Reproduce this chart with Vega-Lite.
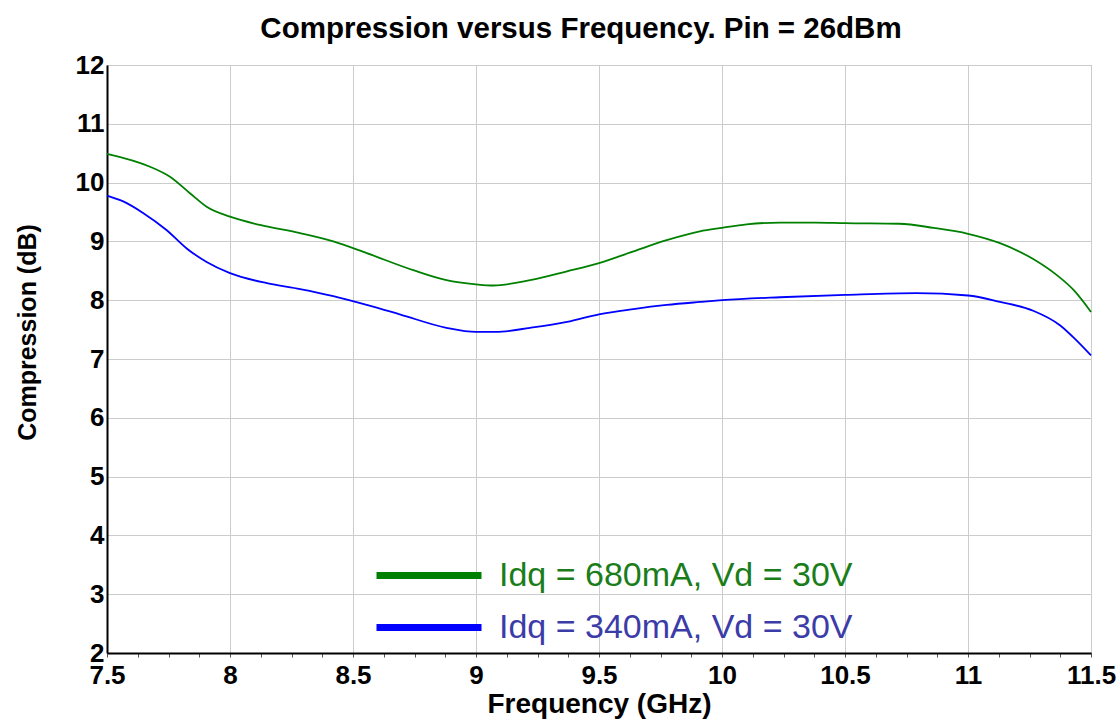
{
  "$schema": "https://vega.github.io/schema/vega-lite/v6.json",
  "width": 984,
  "height": 588,
  "autosize": "none",
  "padding": {"left": 107, "top": 65, "right": 29, "bottom": 69},
  "background": "white",
  "title": {
    "text": "Compression versus Frequency. Pin = 26dBm",
    "font": "Liberation Sans",
    "fontSize": 29.5,
    "fontWeight": "bold",
    "color": "black",
    "anchor": "middle",
    "offset": 8,
    "dx": -18
  },
  "config": {
    "view": {"stroke": "#808080", "strokeWidth": 1},
    "axis": {
      "labelFont": "Liberation Sans",
      "labelFontWeight": "bold",
      "labelFontSize": 26,
      "labelColor": "black",
      "titleFont": "Liberation Sans",
      "titleFontWeight": "bold",
      "titleColor": "black",
      "gridColor": "#cccccc",
      "gridWidth": 1,
      "domainColor": "black",
      "domainWidth": 2,
      "tickColor": "#555555"
    }
  },
  "data": {
    "values": [
      {"f": 7.5, "c": 10.49, "s": "Idq = 680mA, Vd = 30V"},
      {"f": 7.675, "c": 10.27, "s": "Idq = 680mA, Vd = 30V"},
      {"f": 7.756, "c": 10.1, "s": "Idq = 680mA, Vd = 30V"},
      {"f": 7.837, "c": 9.82, "s": "Idq = 680mA, Vd = 30V"},
      {"f": 7.905, "c": 9.59, "s": "Idq = 680mA, Vd = 30V"},
      {"f": 8.0, "c": 9.42, "s": "Idq = 680mA, Vd = 30V"},
      {"f": 8.122, "c": 9.28, "s": "Idq = 680mA, Vd = 30V"},
      {"f": 8.285, "c": 9.14, "s": "Idq = 680mA, Vd = 30V"},
      {"f": 8.42, "c": 9.0, "s": "Idq = 680mA, Vd = 30V"},
      {"f": 8.556, "c": 8.8, "s": "Idq = 680mA, Vd = 30V"},
      {"f": 8.745, "c": 8.51, "s": "Idq = 680mA, Vd = 30V"},
      {"f": 8.88, "c": 8.34, "s": "Idq = 680mA, Vd = 30V"},
      {"f": 9.0, "c": 8.27, "s": "Idq = 680mA, Vd = 30V"},
      {"f": 9.07, "c": 8.25, "s": "Idq = 680mA, Vd = 30V"},
      {"f": 9.22, "c": 8.34, "s": "Idq = 680mA, Vd = 30V"},
      {"f": 9.37, "c": 8.49, "s": "Idq = 680mA, Vd = 30V"},
      {"f": 9.5, "c": 8.63, "s": "Idq = 680mA, Vd = 30V"},
      {"f": 9.64, "c": 8.83, "s": "Idq = 680mA, Vd = 30V"},
      {"f": 9.775, "c": 9.02, "s": "Idq = 680mA, Vd = 30V"},
      {"f": 9.91, "c": 9.17, "s": "Idq = 680mA, Vd = 30V"},
      {"f": 10.0, "c": 9.23, "s": "Idq = 680mA, Vd = 30V"},
      {"f": 10.1, "c": 9.29, "s": "Idq = 680mA, Vd = 30V"},
      {"f": 10.236, "c": 9.32, "s": "Idq = 680mA, Vd = 30V"},
      {"f": 10.38, "c": 9.32, "s": "Idq = 680mA, Vd = 30V"},
      {"f": 10.5, "c": 9.31, "s": "Idq = 680mA, Vd = 30V"},
      {"f": 10.72, "c": 9.3, "s": "Idq = 680mA, Vd = 30V"},
      {"f": 10.86, "c": 9.23, "s": "Idq = 680mA, Vd = 30V"},
      {"f": 11.0, "c": 9.13, "s": "Idq = 680mA, Vd = 30V"},
      {"f": 11.13, "c": 8.97, "s": "Idq = 680mA, Vd = 30V"},
      {"f": 11.265, "c": 8.7, "s": "Idq = 680mA, Vd = 30V"},
      {"f": 11.36, "c": 8.43, "s": "Idq = 680mA, Vd = 30V"},
      {"f": 11.43, "c": 8.17, "s": "Idq = 680mA, Vd = 30V"},
      {"f": 11.5, "c": 7.8, "s": "Idq = 680mA, Vd = 30V"},
      {"f": 7.5, "c": 9.78, "s": "Idq = 340mA, Vd = 30V"},
      {"f": 7.566, "c": 9.68, "s": "Idq = 340mA, Vd = 30V"},
      {"f": 7.648, "c": 9.48, "s": "Idq = 340mA, Vd = 30V"},
      {"f": 7.743, "c": 9.19, "s": "Idq = 340mA, Vd = 30V"},
      {"f": 7.824, "c": 8.88, "s": "Idq = 340mA, Vd = 30V"},
      {"f": 7.905, "c": 8.65, "s": "Idq = 340mA, Vd = 30V"},
      {"f": 8.0, "c": 8.46, "s": "Idq = 340mA, Vd = 30V"},
      {"f": 8.15, "c": 8.29, "s": "Idq = 340mA, Vd = 30V"},
      {"f": 8.285, "c": 8.19, "s": "Idq = 340mA, Vd = 30V"},
      {"f": 8.42, "c": 8.07, "s": "Idq = 340mA, Vd = 30V"},
      {"f": 8.556, "c": 7.92, "s": "Idq = 340mA, Vd = 30V"},
      {"f": 8.69, "c": 7.76, "s": "Idq = 340mA, Vd = 30V"},
      {"f": 8.88, "c": 7.53, "s": "Idq = 340mA, Vd = 30V"},
      {"f": 9.0, "c": 7.46, "s": "Idq = 340mA, Vd = 30V"},
      {"f": 9.08, "c": 7.46, "s": "Idq = 340mA, Vd = 30V"},
      {"f": 9.22, "c": 7.53, "s": "Idq = 340mA, Vd = 30V"},
      {"f": 9.37, "c": 7.63, "s": "Idq = 340mA, Vd = 30V"},
      {"f": 9.5, "c": 7.76, "s": "Idq = 340mA, Vd = 30V"},
      {"f": 9.64, "c": 7.85, "s": "Idq = 340mA, Vd = 30V"},
      {"f": 9.775, "c": 7.92, "s": "Idq = 340mA, Vd = 30V"},
      {"f": 9.91, "c": 7.97, "s": "Idq = 340mA, Vd = 30V"},
      {"f": 10.0, "c": 8.0, "s": "Idq = 340mA, Vd = 30V"},
      {"f": 10.236, "c": 8.05, "s": "Idq = 340mA, Vd = 30V"},
      {"f": 10.5, "c": 8.09, "s": "Idq = 340mA, Vd = 30V"},
      {"f": 10.79, "c": 8.12, "s": "Idq = 340mA, Vd = 30V"},
      {"f": 11.0, "c": 8.08, "s": "Idq = 340mA, Vd = 30V"},
      {"f": 11.13, "c": 7.97, "s": "Idq = 340mA, Vd = 30V"},
      {"f": 11.265, "c": 7.82, "s": "Idq = 340mA, Vd = 30V"},
      {"f": 11.375, "c": 7.57, "s": "Idq = 340mA, Vd = 30V"},
      {"f": 11.44, "c": 7.32, "s": "Idq = 340mA, Vd = 30V"},
      {"f": 11.5, "c": 7.06, "s": "Idq = 340mA, Vd = 30V"}
    ]
  },
  "mark": {"type": "line", "interpolate": "monotone", "strokeWidth": 1.8},
  "encoding": {
    "x": {
      "field": "f",
      "type": "quantitative",
      "scale": {"domain": [7.5, 11.5], "nice": false, "zero": false},
      "axis": {
        "title": "Frequency (GHz)",
        "titleFontSize": 28,
        "values": [7.5, 7.625, 7.75, 7.875, 8, 8.125, 8.25, 8.375, 8.5, 8.625, 8.75, 8.875, 9, 9.125, 9.25, 9.375, 9.5, 9.625, 9.75, 9.875, 10, 10.125, 10.25, 10.375, 10.5, 10.625, 10.75, 10.875, 11, 11.125, 11.25, 11.375, 11.5],
        "labelExpr": "datum.value * 2 == floor(datum.value * 2) ? ('' + datum.value) : ''",
        "labelOverlap": false,
        "labelFlush": false,
        "labelPadding": 5,
        "tickSize": 4,
        "gridOpacity": {"condition": {"test": "datum.value * 2 == floor(datum.value * 2)", "value": 1}, "value": 0},
        "titlePadding": 2
      }
    },
    "y": {
      "field": "c",
      "type": "quantitative",
      "scale": {"domain": [2, 12], "nice": false, "zero": false},
      "axis": {
        "title": "Compression (dB)",
        "titleFontSize": 25,
        "values": [2, 3, 4, 5, 6, 7, 8, 9, 10, 11, 12],
        "labelPadding": 3,
        "ticks": false,
        "labelFlush": false,
        "titleX": -67,
        "titleY": 267
      }
    },
    "color": {
      "field": "s",
      "type": "nominal",
      "sort": ["Idq = 680mA, Vd = 30V", "Idq = 340mA, Vd = 30V"],
      "scale": {"domain": ["Idq = 680mA, Vd = 30V", "Idq = 340mA, Vd = 30V"], "range": ["#008000", "#0000ff"]},
      "legend": {
        "title": null,
        "orient": "none",
        "legendX": 266,
        "legendY": 492,
        "symbolType": "M -1 0 L 6 0",
        "symbolSize": 900,
        "symbolStrokeWidth": 7,
        "labelFont": "Liberation Sans",
        "labelFontSize": 34,
        "labelOffset": 89,
        "labelLimit": 600,
        "rowPadding": 16,
        "encode": {
          "labels": {"update": {"fill": {"signal": "datum.value == 'Idq = 680mA, Vd = 30V' ? '#1a7d1a' : '#3c3ca8'"}}}
        }
      }
    }
  }
}
